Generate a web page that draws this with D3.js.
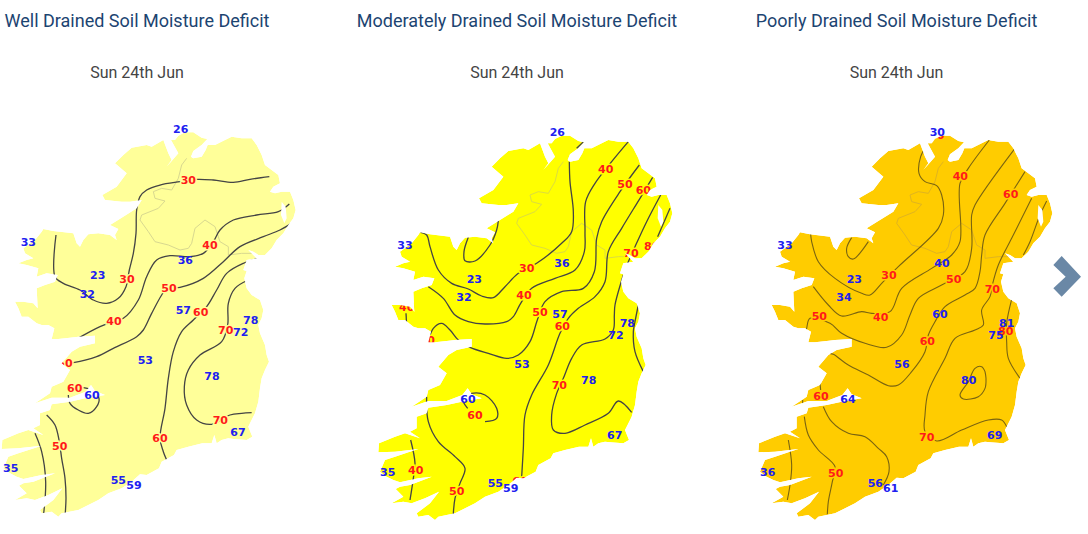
<!DOCTYPE html>
<html>
<head>
<meta charset="utf-8">
<title>Soil Moisture Deficit</title>
<script src="https://cdn.jsdelivr.net/npm/d3@7"></script>
<style>
body { margin: 0; background: #fff; overflow: hidden; }
svg { display: block; }
.title { font-family: Roboto, sans-serif; font-size: 18px; fill: #1c4471; text-anchor: middle; }
.date { font-family: Roboto, sans-serif; font-size: 16px; fill: #444; text-anchor: middle; }
.val { font-family: "DejaVu Sans", sans-serif; font-size: 11px; font-weight: bold; text-anchor: middle; dominant-baseline: central; }
</style>
</head>
<body>
<script>
/*---- map data, all positions in map grid units ----*/
var coast = [[530,85],[540,72],[560,62],[585,62],[610,78],[627,82],[610,100],[585,118],[578,135],[585,140],[610,135],[622,115],[628,100],[650,100],[680,85],[700,75],[730,80],[760,80],[775,100],[790,130],[800,160],[820,175],[840,190],[845,215],[825,225],[815,240],[830,245],[850,240],[875,240],[885,265],[892,295],[885,320],[870,340],[855,365],[835,385],[820,410],[800,430],[780,430],[765,420],[750,415],[775,440],[745,445],[735,475],[745,478],[738,500],[745,530],[760,550],[785,565],[795,595],[790,620],[780,640],[785,665],[800,700],[805,730],[812,750],[800,775],[790,800],[785,830],[780,870],[770,905],[755,935],[750,945],[762,975],[745,985],[705,982],[690,980],[670,985],[655,995],[648,970],[640,995],[612,995],[570,1005],[535,1015],[527,1030],[490,1050],[482,1070],[445,1090],[425,1088],[400,1110],[370,1130],[330,1145],[300,1165],[240,1195],[190,1205],[180,1215],[160,1200],[130,1205],[125,1195],[165,1165],[192,1130],[150,1150],[110,1165],[85,1160],[50,1165],[85,1145],[62,1122],[75,1115],[105,1110],[170,1085],[130,1090],[75,1102],[55,1095],[35,1085],[15,1070],[30,1035],[60,1025],[100,1012],[130,1002],[60,1010],[10,1012],[12,985],[60,965],[90,955],[135,970],[105,950],[125,940],[125,905],[155,895],[160,878],[215,870],[260,860],[320,850],[290,838],[278,820],[262,840],[215,858],[160,858],[110,875],[155,845],[160,825],[195,810],[215,775],[190,755],[220,720],[245,705],[290,695],[290,672],[240,675],[215,678],[180,682],[160,682],[168,650],[150,640],[130,640],[115,635],[90,615],[70,615],[60,590],[50,570],[75,570],[105,575],[118,590],[115,530],[140,520],[170,510],[178,490],[145,485],[115,495],[120,470],[85,460],[60,455],[85,445],[105,440],[80,425],[75,410],[110,385],[130,360],[135,352],[165,358],[225,365],[235,395],[245,405],[255,385],[270,368],[300,365],[335,370],[355,385],[350,370],[360,352],[335,340],[370,318],[415,290],[430,265],[395,270],[370,270],[320,265],[312,250],[355,225],[385,185],[350,155],[375,130],[400,108],[445,100],[460,105],[495,85],[510,125],[520,145],[505,165],[540,125],[518,85]];
var lough = [[850,270],[862,285],[865,320],[858,335],[848,310]];
var border = [[565,140],[550,160],[540,200],[520,235],[490,230],[465,240],[470,260],[500,268],[480,290],[430,310],[425,325],[450,360],[470,390],[510,400],[545,415],[570,410],[580,395],[590,350],[620,325],[650,345],[665,390],[690,405],[690,430],[730,425],[760,425]];
var chevron = [[895,450],[920,423],[978,485],[920,545],[895,520],[932,485]];

/*---- well drained ----*/
var wellTitle = "Well Drained Soil Moisture Deficit";
var wellContours = [
    [[813,195],[755,203],[705,212],[645,205],[595,203],[545,210],[485,220],[445,235],[425,255],[415,295],[413,365],[405,425],[393,475],[383,525],[360,560],[325,575],[285,565],[245,535],[195,515],[170,495],[173,370]],
    [[873,277],[840,300],[775,310],[705,325],[665,355],[645,390],[615,425],[575,435],[515,432],[475,445],[445,495],[420,565],[375,620],[345,630],[305,645],[230,685]],
    [[883,333],[845,355],[795,375],[725,405],[675,450],[615,500],[545,527],[505,530],[490,550],[460,605],[435,655],[415,675],[345,710],[295,735],[225,753],[185,757]],
    [[790,437],[735,455],[685,485],[655,535],[625,585],[585,625],[550,660],[525,720],[510,800],[500,890],[485,980],[495,1020],[512,1060]],
    [[750,505],[710,530],[690,575],[688,640],[670,690],[605,730],[570,775],[558,825],[565,880],[595,925],[640,938],[695,910],[730,905],[760,903]],
    [[210,850],[215,875],[240,895],[270,905],[295,885],[302,860],[280,835],[255,828]],
    [[145,910],[170,940],[183,990],[190,1040],[200,1100],[203,1160],[200,1215]],
    [[110,965],[130,1020],[142,1110],[135,1215]]
];
var wellRed = [["30",570,205],["40",635,400],["30",386,502],["50",512,530],["60",607,602],["40",347,630],["70",682,655],["50",200,755],["60",229,830],["50",184,1005],["60",485,980],["70",666,925]];
var wellBlue = [["26",547,52],["33",90,392],["23",298,492],["32",267,548],["36",561,445],["57",555,595],["78",757,625],["72",727,663],["53",441,747],["78",641,795],["60",281,852],["67",719,962],["35",37,1071],["55",360,1105],["59",407,1120]];

/*---- moderately drained ----*/
var modTitle = "Moderately Drained Soil Moisture Deficit";
var modContours = [
    [[628,78],[605,100]],
    [[583,140],[585,200],[595,290],[590,350],[560,385],[485,445],[430,475],[390,515],[355,548],[320,543],[280,522],[230,505],[190,465],[165,395],[155,360],[137,352]],
    [[370,317],[365,345],[345,390],[300,438],[270,437],[267,410],[280,367]],
    [[760,80],[710,140],[660,205],[632,260],[630,350],[628,410],[600,465],[540,490],[470,520],[437,565],[415,605],[395,620],[330,627],[280,620],[240,600],[205,550],[160,515]],
    [[793,150],[735,230],[680,320],[665,370],[658,470],[625,520],[560,530],[510,560],[487,615],[465,680],[430,720],[395,730],[340,715],[285,697],[250,675],[225,645],[200,625],[175,640],[160,680]],
    [[93,595],[95,632]],
    [[833,187],[795,250],[740,340],[700,410],[690,500],[660,545],[610,580],[580,610],[555,655],[520,750],[470,840],[450,900],[445,1000],[440,1085]],
    [[857,240],[815,320],[780,395],[758,445]],
    [[745,480],[720,570],[718,600],[715,645],[690,672],[620,690],[590,730],[565,790],[545,835],[530,900],[535,945],[570,955],[630,930],[700,895],[730,858],[770,892]],
    [[885,280],[848,365]],
    [[790,570],[780,620],[775,650],[780,710],[805,770]],
    [[155,845],[160,920],[190,980],[240,1025],[270,1060],[255,1105],[240,1150],[235,1197]],
    [[278,880],[262,850],[290,835],[330,840],[365,880],[365,910],[330,920]],
    [[107,975],[120,1045],[115,1090],[105,1155]]
];
var modRed = [["40",692,162],["50",750,207],["60",805,227],["70",768,415],["80",830,395],["30",455,460],["40",447,542],["50",495,592],["60",562,635],["70",553,810],["60",300,900],["40",122,1065],["50",245,1130],["60",435,1100],["40",95,578],["50",157,675]];
var modBlue = [["26",547,52],["33",90,392],["23",298,492],["32",267,547],["36",561,444],["57",555,597],["78",757,625],["72",723,662],["53",441,748],["78",641,795],["60",279,852],["67",719,962],["35",38,1071],["55",361,1105],["59",407,1119]];

/*---- poorly drained ----*/
var poorTitle = "Poorly Drained Soil Moisture Deficit";
var poorContours = [
    [[512,97],[497,125],[492,175],[510,200],[545,212],[560,240],[565,300],[550,340],[430,455],[380,505],[345,540],[320,535],[240,490],[190,440],[170,380],[167,358]],
    [[290,368],[275,400],[280,425],[295,432],[340,380]],
    [[703,75],[640,160],[615,205],[615,380],[590,420],[530,460],[440,520],[405,590],[350,595],[320,590],[260,603],[220,570],[175,515]],
    [[780,100],[660,270],[650,300],[650,400],[630,470],[560,510],[490,550],[465,600],[440,660],[395,697],[330,685],[260,655],[225,625],[165,610],[155,640],[150,670]],
    [[810,170],[750,265],[690,360],[680,420],[675,470],[660,520],[630,540],[570,575],[540,620],[520,660],[510,710],[470,770],[430,810],[400,812],[340,780],[280,750],[235,718],[225,715]],
    [[830,250],[770,370],[730,450],[712,510],[705,545],[680,585],[685,630],[660,645],[600,670],[570,730],[520,830],[510,900],[510,950],[545,978],[620,945],[700,915],[740,915],[755,935]],
    [[875,258],[855,300],[825,380],[805,420]],
    [[770,553],[755,625],[755,680],[760,730],[795,790]],
    [[690,770],[680,755],[660,760],[640,800],[615,840],[625,852],[670,845],[690,820],[693,790],[690,770]],
    [[148,905],[160,960],[190,1005],[240,1055],[232,1100],[220,1160],[217,1198]],
    [[100,975],[110,1050],[105,1110],[97,1155]],
    [[205,875],[230,920],[280,955],[330,965],[370,1000],[395,1025],[402,1070],[385,1110]],
    [[195,805],[197,825]],
    [[143,855],[143,868]]
];
var poorRed = [["30",545,60],["40",616,185],["60",767,237],["30",402,480],["50",596,492],["70",712,522],["50",193,605],["40",377,607],["60",517,680],["80",752,648],["60",198,843],["70",515,967],["50",242,1075]];
var poorBlue = [["30",547,52],["33",90,392],["23",298,492],["34",267,547],["40",561,444],["60",555,597],["81",755,625],["75",723,662],["56",441,748],["80",641,795],["64",279,852],["69",719,962],["36",38,1071],["56",361,1105],["61",407,1119]];

var dateLabel = "Sun 24th Jun";

var panels = [
    {title: wellTitle, contours: wellContours, red: wellRed, blue: wellBlue, land: "#ffff99", border: "#d8d890", line: "#444", lw: 1.3, ox: -1.67, oy: 111.67, cx: 137},
    {title: modTitle, contours: modContours, red: modRed, blue: modBlue, land: "#ffff00", border: "#dcdc40", line: "#444", lw: 1.3, ox: 375, oy: 115, cx: 517},
    {title: poorTitle, contours: poorContours, red: poorRed, blue: poorBlue, land: "#ffcc00", border: "#e0b420", line: "#7a6410", lw: 1.1, ox: 755, oy: 115, cx: 896.5}
];

var svg = d3.select("body").append("svg").attr("width", 1088).attr("height", 534);

panels.forEach(function(p) {
    var x = d3.scaleLinear().domain([0, 900]).range([p.ox, p.ox + 300]);
    var y = d3.scaleLinear().domain([0, 1230]).range([p.oy, p.oy + 410]);
    var g = svg.append("g");

    var linear = d3.line().x(d => x(d[0])).y(d => y(d[1]));
    var smooth = d3.line().x(d => x(d[0])).y(d => y(d[1])).curve(d3.curveCatmullRom);

    g.append("path").attr("d", linear(coast) + "Z").attr("fill", p.land);
    g.append("path").attr("d", linear(border)).attr("fill", "none").attr("stroke", p.border).attr("stroke-width", 1);

    g.selectAll(".contour").data(p.contours).enter().append("path")
        .attr("class", "contour")
        .attr("d", smooth)
        .attr("fill", "none")
        .attr("stroke", p.line)
        .attr("stroke-width", p.lw);

    g.selectAll(".red").data(p.red).enter().append("text")
        .attr("class", "val red")
        .attr("x", d => x(d[1]))
        .attr("y", d => y(d[2]))
        .attr("fill", "#ff1a1a")
        .attr("stroke", p.land)
        .attr("stroke-width", 3)
        .attr("paint-order", "stroke")
        .text(d => d[0]);

    // sea mask on top: red labels and contours stop at the coast
    var box = [[-10, -50], [960, -50], [960, 1260], [-10, 1260]];
    g.append("path")
        .attr("d", linear(box) + "Z" + linear(coast) + "Z" + linear(lough) + "Z")
        .attr("fill", "#fff")
        .attr("fill-rule", "evenodd");

    g.selectAll(".blue").data(p.blue).enter().append("text")
        .attr("class", "val blue")
        .attr("x", d => x(d[1]))
        .attr("y", d => y(d[2]))
        .attr("fill", "#2020f0")
        .text(d => d[0]);

    if (p.title === poorTitle) {
        g.append("path").attr("d", linear(chevron) + "Z").attr("fill", "#6a88a6");
    }
});

panels.forEach(function(p) {
    svg.append("text").attr("class", "title").attr("x", p.cx).attr("y", 27).text(p.title);
    svg.append("text").attr("class", "date").attr("x", p.cx).attr("y", 78).text(dateLabel);
});
</script>
</body>
</html>
